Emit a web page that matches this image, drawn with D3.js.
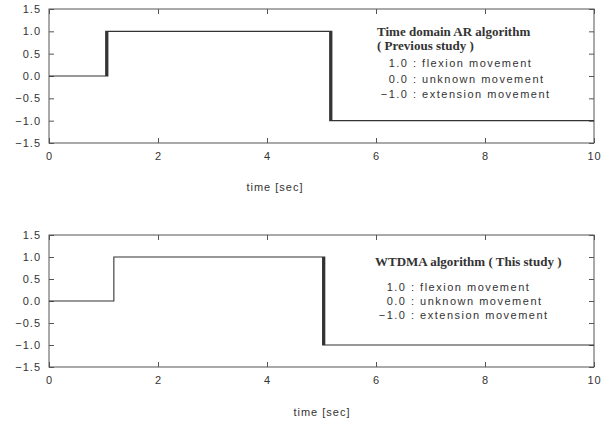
<!DOCTYPE html>
<html>
<head>
<meta charset="utf-8">
<script src="https://cdn.jsdelivr.net/npm/d3@7"></script>
<style>
  body { margin: 0; background: #fff; }
  svg text { font-family: "Liberation Sans", Arial, sans-serif; fill: #333; }
</style>
</head>
<body>
<script>
// step traces: value held from each time until the next one
const prevTime  = [0, 1.04, 1.06, 1.08, 5.15, 5.17, 5.19, 10];
const prevState = [0, 1, 0, 1, -1, 1, -1, -1];
const thisTime  = [0, 1.19, 5.02, 5.04, 5.06, 10];
const thisState = [0, 1, -1, 1, -1, -1];

const xTicks = [0, 2, 4, 6, 8, 10];
const yTicks = [-1.5, -1.0, -0.5, 0.0, 0.5, 1.0, 1.5];

const prevTitle = ["Time domain AR algorithm", "( Previous study )"];
const thisTitle = ["WTDMA algorithm ( This study )"];
const legendCodes = ["1.0", "0.0", "\u22121.0"];
const legendNames = ["flexion movement", "unknown movement", "extension movement"];

const width = 614, height = 423;
const svg = d3.select("body").append("svg")
  .attr("width", width).attr("height", height);

const x = d3.scaleLinear().domain([0, 10]).range([49, 594]);

function panel(top, bottom, times, states, title, legendX, titleY, lineYs, codeX, xlabelX, xlabelY) {
  const y = d3.scaleLinear().domain([-1.5, 1.5]).range([bottom, top]);
  const g = svg.append("g");

  g.append("g").attr("transform", `translate(0,${bottom})`)
    .call(d3.axisBottom(x).tickValues(xTicks).tickSize(-5).tickPadding(9).tickFormat(d3.format("d")));
  g.append("g").attr("transform", `translate(0,${top})`)
    .call(d3.axisTop(x).tickValues(xTicks).tickSize(-5).tickFormat(""));
  g.append("g").attr("transform", `translate(${x(0)},0)`)
    .call(d3.axisLeft(y).tickValues(yTicks).tickSize(-5).tickPadding(8).tickFormat(d3.format(".1f")));
  g.append("g").attr("transform", `translate(${x(10)},0)`)
    .call(d3.axisRight(y).tickValues(yTicks).tickSize(-5).tickFormat(""));

  g.selectAll(".domain").remove();
  g.selectAll(".tick line").attr("stroke", "#555");
  g.selectAll(".tick text").style("font-size", "11px").style("letter-spacing", "1px").attr("fill", "#555");

  g.append("rect")
    .attr("x", x(0)).attr("y", top)
    .attr("width", x(10) - x(0)).attr("height", bottom - top)
    .attr("fill", "none").attr("stroke", "#555").attr("stroke-width", 1);

  const pts = times.map((t, i) => [t, states[i]]);
  g.append("path")
    .datum(pts)
    .attr("fill", "none")
    .attr("stroke", "#333")
    .attr("stroke-width", 1.1)
    .attr("d", d3.line().x(d => x(d[0])).y(d => y(d[1])).curve(d3.curveStepAfter));

  title.forEach((t, i) => {
    g.append("text")
      .attr("x", legendX).attr("y", titleY + i * 14)
      .style("font-family", "'Liberation Serif', 'Times New Roman', serif")
      .style("font-weight", "bold")
      .style("font-size", "13px")
      .attr("fill", "#111")
      .text(t);
  });
  legendCodes.forEach((c, i) => {
    const row = g.append("text")
      .attr("y", lineYs[i])
      .style("font-size", "11px").style("letter-spacing", "1.5px")
      .attr("fill", "#333");
    row.append("tspan").attr("x", codeX).attr("text-anchor", "end").text(c + " ");
    row.append("tspan").attr("x", codeX).text(": " + legendNames[i]);
  });

  g.append("text")
    .attr("x", xlabelX).attr("y", xlabelY)
    .attr("text-anchor", "middle")
    .style("font-size", "11px").style("letter-spacing", "1px")
    .attr("fill", "#333")
    .text("time [sec]");
}

panel(9, 143, prevTime, prevState, prevTitle, 377, 36, [67, 83, 98], 413, 275, 191);
panel(235, 367, thisTime, thisState, thisTitle, 375, 266, [291, 305, 319], 411, 322, 416);
</script>
</body>
</html>
